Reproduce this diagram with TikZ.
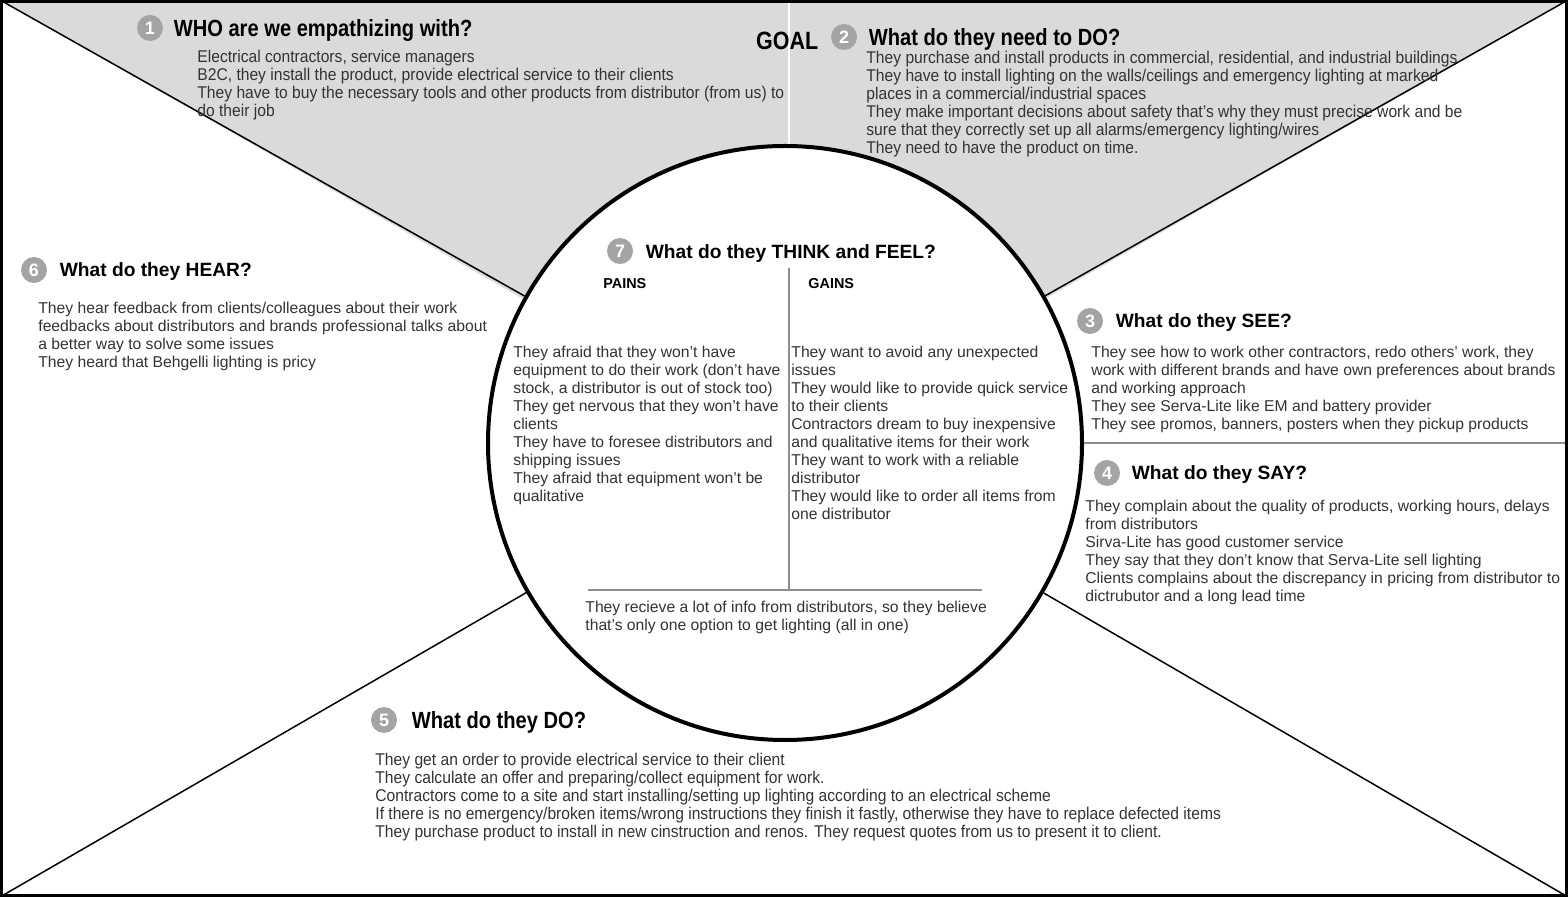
\documentclass[tikz,border=0pt]{standalone}
\usepackage{fontspec}
\setmainfont{Liberation Sans}
\newfontfamily\narrowfont[FakeStretch=0.92]{Liberation Sans}
\newfontfamily\headnarrow[FakeStretch=0.86]{Liberation Sans}
\usetikzlibrary{positioning}
\definecolor{mapgray}{HTML}{DADADA}
\definecolor{badgegray}{HTML}{A4A4A4}
\definecolor{bodygray}{HTML}{333333}
\definecolor{splitgray}{HTML}{8E8E8E}

\begin{document}
\begin{tikzpicture}[x=0.5pt, y=-0.5pt,
        badge/.style={circle, fill=badgegray, text=white, inner sep=0mm, minimum size=13pt, font=\bfseries\fontsize{9}{9}\selectfont},
        heading/.style={inner sep=0mm, text depth=0pt, font=\bfseries\fontsize{9.6}{11}\selectfont},
        narrowheading/.style={heading, font=\headnarrow\bfseries\fontsize{11.7}{12}\selectfont},
        body/.style={inner sep=0mm, anchor=north west, align=left, text=bodygray, font=\fontsize{7.85}{9}\selectfont},
        narrowbody/.style={body, font=\narrowfont\fontsize{8.5}{9}\selectfont}]
        \useasboundingbox (0,0) rectangle (1568,897);
        \coordinate (nw) at (0,0);
        \coordinate (ne) at (1568,0);
        \coordinate (sw) at (0,897);
        \coordinate (se) at (1568,897);
        % goal wedge
        \fill[mapgray] (nw) -- (ne) -- (784,448) -- cycle;
        \node (hub) [circle, draw, fill=white, line width=2pt, minimum size=297pt, inner sep=0mm] at (785,443) {};
        \draw[line width=0.75pt] (nw) -- (hub);
        \draw[line width=0.75pt] (ne) -- (hub);
        \draw[line width=0.75pt] (sw) -- (hub);
        \draw[line width=0.75pt] (se) -- (hub);
        \draw[white, line width=1pt] (789,0) -- (789,0 |- hub.north);
        \draw[splitgray, line width=1pt] (hub.east) -- (hub.east -| se);
        % pains / gains split
        \draw[splitgray, line width=1pt] (789,268) -- (789,590);
        \draw[splitgray, line width=1pt] (588,590) -- (982,590);

        \node (b1) [badge] at (150,28) {1};
        \node (h1) [narrowheading, right=5pt of b1] {WHO are we empathizing with?};
        \node (who) [narrowbody] at (197,50) {Electrical contractors, service managers\\
            B2C, they install the product, provide electrical service to their clients\\
            They have to buy the necessary tools and other products from distributor (from us) to\\
            do their job};

        \node (b2) [badge] at (844,37) {2};
        \node (goal) [narrowheading, left=6pt of b2, yshift=-2pt, font=\headnarrow\bfseries\fontsize{12.5}{13}\selectfont] {GOAL};
        \node (h2) [narrowheading, right=5.5pt of b2] {What do they need to DO?};
        \node (need) [narrowbody] at (866,51) {They purchase and install products in commercial, residential, and industrial buildings\\
            They have to install lighting on the walls/ceilings and emergency lighting at marked\\
            places in a commercial/industrial spaces\\
            They make important decisions about safety that’s why they must precise work and be\\
            sure that they correctly set up all alarms/emergency lighting/wires\\
            They need to have the product on time.};

        \node (b6) [badge] at (34,270) {6};
        \node (h6) [heading, right=6pt of b6] {What do they HEAR?};
        \node (hear) [body] at (38,302) {They hear feedback from clients/colleagues about their work\\
            feedbacks about distributors and brands professional talks about\\
            a better way to solve some issues\\
            They heard that Behgelli lighting is pricy};

        \node (b7) [badge] at (620,251) {7};
        \node (h7) [heading, right=6pt of b7, yshift=-0.5pt] {What do they THINK and FEEL?};
        \node (painsh) [heading, anchor=west, font=\bfseries\fontsize{7.2}{8}\selectfont] at (603,283) {PAINS};
        \node (gainsh) [heading, anchor=west, font=\bfseries\fontsize{7.2}{8}\selectfont] at (808,283) {GAINS};
        \node (pains) [body] at (513,346) {They afraid that they won’t have\\
            equipment to do their work (don’t have\\
            stock, a distributor is out of stock too)\\
            They get nervous that they won’t have\\
            clients\\
            They have to foresee distributors and\\
            shipping issues\\
            They afraid that equipment won’t be\\
            qualitative};
        \node (gains) [body] at (791,346) {They want to avoid any unexpected\\
            issues\\
            They would like to provide quick service\\
            to their clients\\
            Contractors dream to buy inexpensive\\
            and qualitative items for their work\\
            They want to work with a reliable\\
            distributor\\
            They would like to order all items from\\
            one distributor};
        \node (belief) [body] at (585,601) {They recieve a lot of info from distributors, so they believe\\
            that’s only one option to get lighting (all in one)};

        \node (b3) [badge] at (1090,321) {3};
        \node (h3) [heading, right=6pt of b3] {What do they SEE?};
        \node (see) [body] at (1091,346) {They see how to work other contractors, redo others' work, they\\
            work with different brands and have own preferences about brands\\
            and working approach\\
            They see Serva-Lite like EM and battery provider\\
            They see promos, banners, posters when they pickup products};

        \node (b4) [badge] at (1107,473) {4};
        \node (h4) [heading, right=5.5pt of b4] {What do they SAY?};
        \node (say) [body] at (1085,500) {They complain about the quality of products, working hours, delays\\
            from distributors\\
            Sirva-Lite has good customer service\\
            They say that they don’t know that Serva-Lite sell lighting\\
            Clients complains about the discrepancy in pricing from distributor to\\
            dictrubutor and a long lead time};

        \node (b5) [badge] at (384,720) {5};
        \node (h5) [narrowheading, right=7pt of b5] {What do they DO?};
        \node (do) [narrowbody] at (375,753) {They get an order to provide electrical service to their client\\
            They calculate an offer and preparing/collect equipment for work.\\
            Contractors come to a site and start installing/setting up lighting according to an electrical scheme\\
            If there is no emergency/broken items/wrong instructions they finish it fastly, otherwise they have to replace defected items\\
            They purchase product to install in new cinstruction and renos. They request quotes from us to present it to client.};

        \draw[line width=1.5pt] (1.5,1.5) rectangle (1566.5,895.5);
\end{tikzpicture}
\end{document}
